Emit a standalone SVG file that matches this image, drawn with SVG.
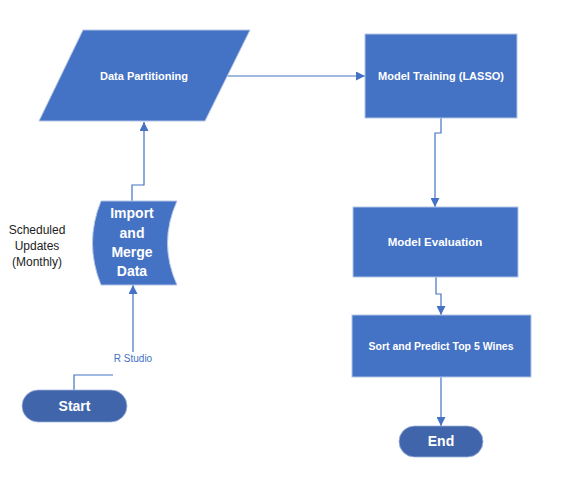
<svg xmlns="http://www.w3.org/2000/svg" width="565" height="478" viewBox="0 0 565 478">
<style>
.box{fill:#4472C4;stroke:#B4C5E6;stroke-width:1}
.term{fill:#4165AB;stroke:#9FB3DA;stroke-width:0.8}
.lbl{font-family:"Liberation Sans",Arial,sans-serif;font-weight:bold;fill:#FFFFFF;text-anchor:middle}
.conn{fill:none;stroke:#4472C4;stroke-width:1.2}
.note{font-family:"Liberation Sans",Arial,sans-serif;font-size:12px;fill:#222222;text-anchor:middle}
</style>
<defs>
<marker id="ah" viewBox="0 0 10 10" refX="10" refY="5" markerWidth="9" markerHeight="9" markerUnits="userSpaceOnUse" orient="auto">
<path d="M0,0 L10,5 L0,10 z" fill="#4472C4"/>
</marker>
</defs>
<rect width="565" height="478" fill="#FFFFFF"/>
<g id="connectors">
<path class="conn" d="M227,76 H365" marker-end="url(#ah)"/>
<path class="conn" d="M132,201 V185 H144 V122" marker-end="url(#ah)"/>
<path class="conn" d="M74,390 V375 H113"/>
<path class="conn" d="M133,352 V285" marker-end="url(#ah)"/>
<text x="133" y="362" font-family="Liberation Sans, Arial, sans-serif" font-size="10" fill="#4472C4" text-anchor="middle">R Studio</text>
<path class="conn" d="M441,118 V133 H435 V207" marker-end="url(#ah)"/>
<path class="conn" d="M436,277 V294 H441 V315" marker-end="url(#ah)"/>
<path class="conn" d="M441,377 V426" marker-end="url(#ah)"/>
</g>
<g id="data-partitioning">
<polygon class="box" points="83,30 250,30 205,121 39,121"/>
<text class="lbl" x="144" y="80" font-size="11">Data Partitioning</text>
</g>
<g id="model-training">
<rect class="box" x="365" y="34" width="152" height="84"/>
<text class="lbl" x="441" y="80" font-size="11">Model Training (LASSO)</text>
</g>
<g id="import-merge">
<path class="box" d="M101,201 H177 Q158,243 177,285 H101 Q84,243 101,201 Z"/>
<text class="lbl" x="132" y="218" font-size="14">Import</text>
<text class="lbl" x="132" y="238" font-size="14">and</text>
<text class="lbl" x="132" y="257" font-size="14">Merge</text>
<text class="lbl" x="132" y="276" font-size="14">Data</text>
</g>
<g id="scheduled-note">
<text class="note" x="37" y="234">Scheduled</text>
<text class="note" x="37" y="250">Updates</text>
<text class="note" x="37" y="266">(Monthly)</text>
</g>
<g id="model-evaluation">
<rect class="box" x="353" y="207" width="165" height="70"/>
<text class="lbl" x="435" y="246" font-size="11.5">Model Evaluation</text>
</g>
<g id="sort-predict">
<rect class="box" x="352" y="315" width="179" height="62"/>
<text class="lbl" x="441" y="350" font-size="10.5">Sort and Predict Top 5 Wines</text>
</g>
<g id="start">
<rect class="term" x="22" y="390" width="105" height="32" rx="16" ry="16"/>
<text class="lbl" x="74.5" y="411" font-size="14">Start</text>
</g>
<g id="end">
<rect class="term" x="399" y="426" width="84" height="31" rx="15.5" ry="15.5"/>
<text class="lbl" x="441" y="446" font-size="14">End</text>
</g>
</svg>
